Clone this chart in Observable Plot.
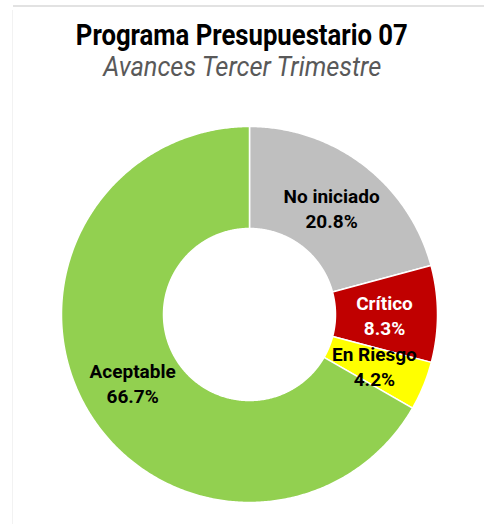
<!DOCTYPE html>
<html>
<head>
<meta charset="utf-8">
<script src="https://cdn.jsdelivr.net/npm/d3@7"></script>
<script src="https://cdn.jsdelivr.net/npm/@observablehq/plot@0.6"></script>
<style>
  html, body { margin: 0; padding: 0; background: #fff; }
  #wrap { position: relative; width: 484px; height: 524px; overflow: hidden; }
  #chart { position: absolute; left: 0; top: 0; }
  .t { position: absolute; left: 0; width: 484px; text-align: center; white-space: nowrap; }
  .t span { display: inline-block; transform-origin: center; }
  #title { top: 17px; font: bold 30px "Liberation Sans Narrow", "Roboto", sans-serif; color: #000; }
  #subtitle { top: 50px; font: italic 28px "Liberation Sans Narrow", "Roboto", sans-serif; color: #595959; }
  #topline { position: absolute; left: 13px; top: 5px; width: 471px; height: 2px; background: #e2e2e2; }
  #leftline { position: absolute; left: 12px; top: 10px; width: 1px; height: 514px; background: #f2f2f2; }
</style>
</head>
<body>
<div id="wrap">
  <div id="topline"></div>
  <div id="leftline"></div>
  <div id="chart"></div>
  <div class="t" id="title"><span>Programa Presupuestario 07</span></div>
  <div class="t" id="subtitle"><span>Avances Tercer Trimestre</span></div>
</div>
<script>
const categories = ["No iniciado", "Crítico", "En Riesgo", "Aceptable"];
const values = [20.8, 8.3, 4.2, 66.7];
const labels = ["20.8%", "8.3%", "4.2%", "66.7%"];
const colors = ["#BFBFBF", "#C00000", "#FFFF00", "#92D050"];
const labelColors = ["#000000", "#FFFFFF", "#000000", "#000000"];

const W = 484, H = 524;
const CX = 249, CY = 314;          // donut centre in pixels
const R_OUT = 188, R_IN = 86, R_LAB = 135;

const pie = d3.pie().sort(null).value(d => d.value);
const table = categories.map((c, i) => ({category: c, value: values[i], label: labels[i], color: colors[i], labelColor: labelColors[i]}));
const arcs = pie(table);

function pt(r, a) { return [r * Math.sin(a), r * Math.cos(a)]; }
function ring(a0, a1) {
  const n = Math.max(8, Math.ceil((a1 - a0) / (Math.PI / 360)));
  const outer = d3.range(n + 1).map(k => pt(R_OUT, a0 + (a1 - a0) * k / n));
  const inner = d3.range(n + 1).map(k => pt(R_IN, a1 - (a1 - a0) * k / n));
  const coords = outer.concat(inner);
  coords.push(coords[0]);
  return coords;
}
const features = arcs.map(a => ({
  type: "Feature",
  properties: a.data,
  geometry: {type: "Polygon", coordinates: [ring(a.startAngle, a.endAngle)]}
}));
const labelData = arcs.map(a => {
  const m = (a.startAngle + a.endAngle) / 2;
  const [x, y] = pt(R_LAB, m);
  return {x, y, text: a.data.category + "\n" + a.data.label, color: a.data.labelColor};
});

const frame = {type: "Polygon", coordinates: [[[-CX, CY - H], [W - CX, CY - H], [W - CX, CY], [-CX, CY], [-CX, CY - H]]]};

const chart = Plot.plot({
  width: W, height: H, margin: 0,
  projection: {type: "reflect-y", domain: frame},
  marks: [
    Plot.geo(features, {fill: d => d.properties.color, stroke: "#fff", strokeWidth: 1.5}),
    Plot.text(labelData, {x: "x", y: "y", text: "text", fill: "color",
      fontSize: 19, fontWeight: "bold", lineHeight: 1.32,
      fontFamily: "'Liberation Sans Narrow', Roboto, sans-serif"})
  ]
});
document.getElementById("chart").appendChild(chart);

function fit(id, target) {
  const s = document.querySelector("#" + id + " span");
  const w = s.getBoundingClientRect().width;
  s.style.transform = "scaleX(" + (target / w) + ")";
}
fit("title", 332);
fit("subtitle", 278);
</script>
</body>
</html>
